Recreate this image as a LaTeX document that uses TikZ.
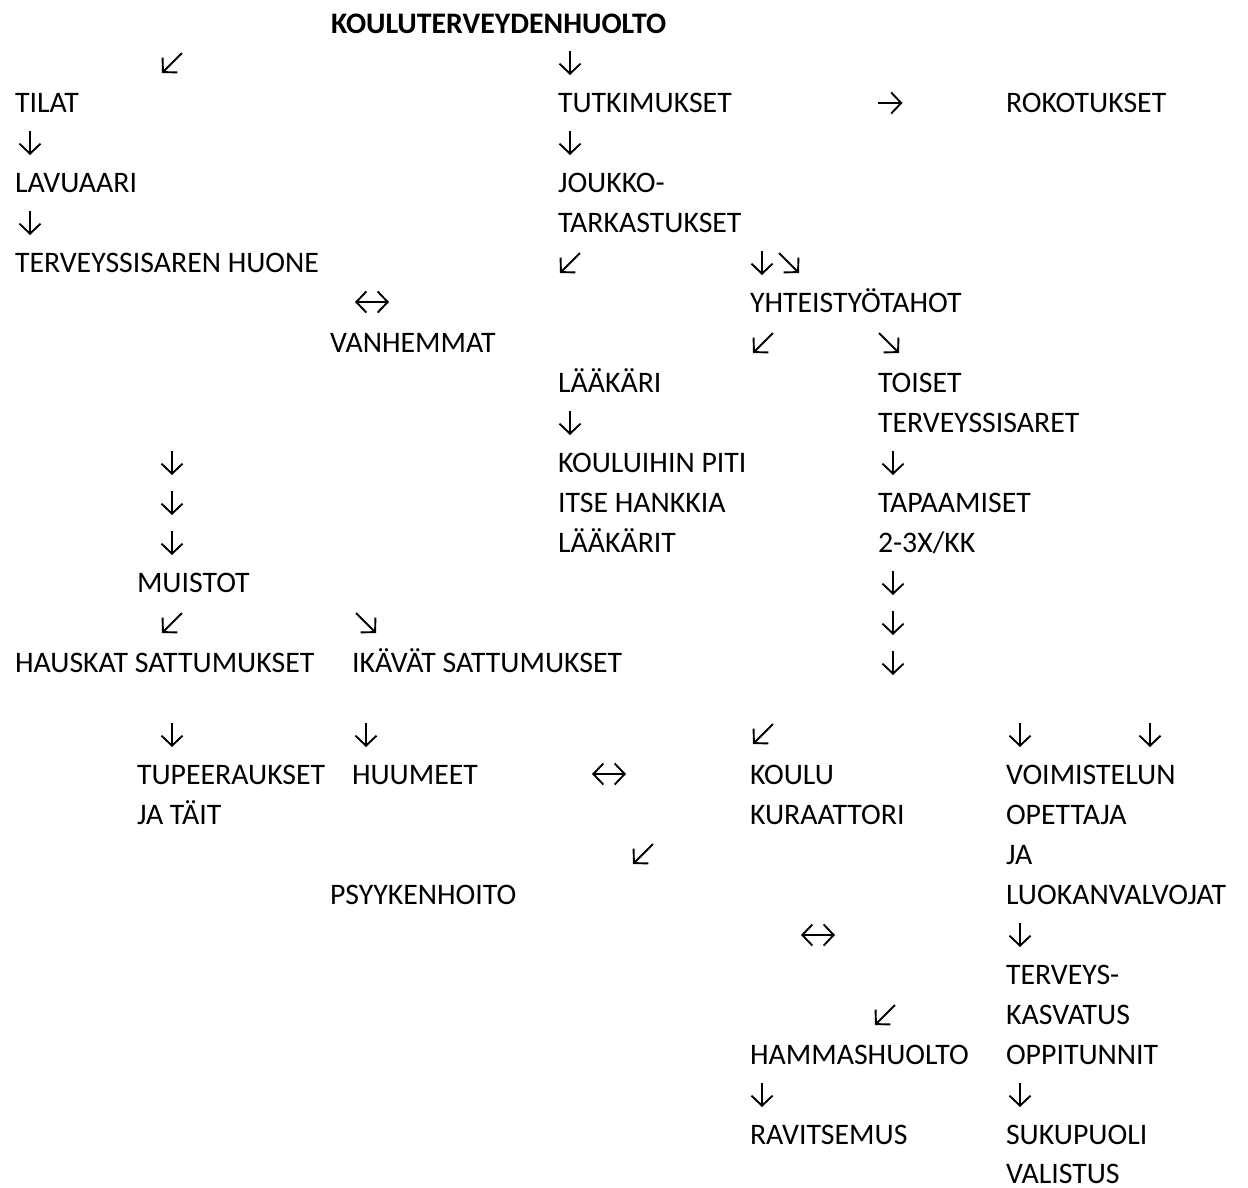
\documentclass[tikz,border=0pt]{standalone}
\usepackage{fontspec}
\setmainfont{Carlito}
\usetikzlibrary{arrows.meta}
\tikzset{
  t/.style={anchor=base west, inner sep=0pt, outer sep=0pt, font=\fontsize{29.8}{34}\selectfont},
  tb/.style={t, font=\fontsize{29.8}{34}\selectfont\bfseries},
  arr/.style={line width=1.9pt, -{Straight Barb[length=10pt,width=21pt]}},
  arrlr/.style={line width=1.9pt, {Straight Barb[length=10pt,width=21pt]}-{Straight Barb[length=10pt,width=21pt]}}
}
\newcommand\Adown[2]{\draw[arr] (#1,#2) ++(0,-12) -- ++(0,24);}
\newcommand\Aright[2]{\draw[arr] (#1,#2) ++(-12.5,0) -- ++(25,0);}
\newcommand\Adl[2]{\draw[arr] (#1,#2) ++(10,-10) -- ++(-20,20);}
\newcommand\Adr[2]{\draw[arr] (#1,#2) ++(-10,-10) -- ++(20,20);}
\newcommand\Alr[2]{\draw[arrlr] (#1,#2) ++(-17,0) -- ++(34,0);}
\begin{document}
\begin{tikzpicture}[x=1pt,y=-1pt]
\useasboundingbox (0,0) rectangle (1248,1187);
% texts
\node[tb] (title) at (331,33) {KOULUTERVEYDENHUOLTO};
\node[t] (tilat) at (15,112) {TILAT};
\node[t] (tutk) at (558,112) {TUTKIMUKSET};
\node[t] (roko) at (1006,112) {ROKOTUKSET};
\node[t] (lav) at (15,192) {LAVUAARI};
\node[t] (jouk) at (558,192) {JOUKKO-};
\node[t] (tark) at (558,232) {TARKASTUKSET};
\node[t] (huone) at (15,272) {TERVEYSSISAREN HUONE};
\node[t] (yht) at (750,312) {YHTEISTYÖTAHOT};
\node[t] (vanh) at (330,352) {VANHEMMAT};
\node[t] (laak) at (558,392) {LÄÄKÄRI};
\node[t] (toiset) at (878,392) {TOISET};
\node[t] (tsis) at (878,432) {TERVEYSSISARET};
\node[t] (koului) at (558,472) {KOULUIHIN PITI};
\node[t] (itse) at (558,512) {ITSE HANKKIA};
\node[t] (tapaa) at (878,512) {TAPAAMISET};
\node[t] (laakt) at (558,552) {LÄÄKÄRIT};
\node[t] (kk) at (878,552) {2-3X/KK};
\node[t] (muis) at (137,592) {MUISTOT};
\node[t] (hausk) at (15,672) {HAUSKAT SATTUMUKSET};
\node[t] (ikav) at (352,672) {IKÄVÄT SATTUMUKSET};
\node[t] (tupe) at (137,784) {TUPEERAUKSET};
\node[t] (huum) at (352,784) {HUUMEET};
\node[t] (koulu) at (750,784) {KOULU};
\node[t] (voim) at (1006,784) {VOIMISTELUN};
\node[t] (jatait) at (137,824) {JA TÄIT};
\node[t] (kura) at (750,824) {KURAATTORI};
\node[t] (opet) at (1006,824) {OPETTAJA};
\node[t] (ja) at (1006,864) {JA};
\node[t] (psyk) at (330,904) {PSYYKENHOITO};
\node[t] (luok) at (1006,904) {LUOKANVALVOJAT};
\node[t] (terv) at (1006,984) {TERVEYS-};
\node[t] (kasv) at (1006,1024) {KASVATUS};
\node[t] (hamm) at (750,1064) {HAMMASHUOLTO};
\node[t] (oppi) at (1006,1064) {OPPITUNNIT};
\node[t] (ravi) at (750,1144) {RAVITSEMUS};
\node[t] (suku) at (1006,1144) {SUKUPUOLI};
\node[t] (vali) at (1006,1183) {VALISTUS};
% arrows
\Adl{172}{63} \Adown{570}{63}
\Aright{890}{103}
\Adown{30}{143} \Adown{570}{143}
\Adown{30}{223}
\Adl{570}{263} \Adown{762}{263} \Adr{789}{263}
\Alr{372}{302}
\Adl{763}{343} \Adr{889}{343}
\Adown{570}{423}
\Adown{172}{463} \Adown{893}{463}
\Adown{172}{503}
\Adown{172}{543}
\Adown{893}{583}
\Adl{172}{623} \Adr{366}{623} \Adown{893}{623}
\Adown{893}{663}
\Adown{172}{735} \Adown{366}{735} \Adl{763}{734} \Adown{1020}{735} \Adown{1150}{735}
\Alr{609}{774}
\Adl{643}{854}
\Alr{818}{935} \Adown{1020}{935}
\Adl{885}{1015}
\Adown{762}{1095} \Adown{1020}{1095}
\end{tikzpicture}
\end{document}
